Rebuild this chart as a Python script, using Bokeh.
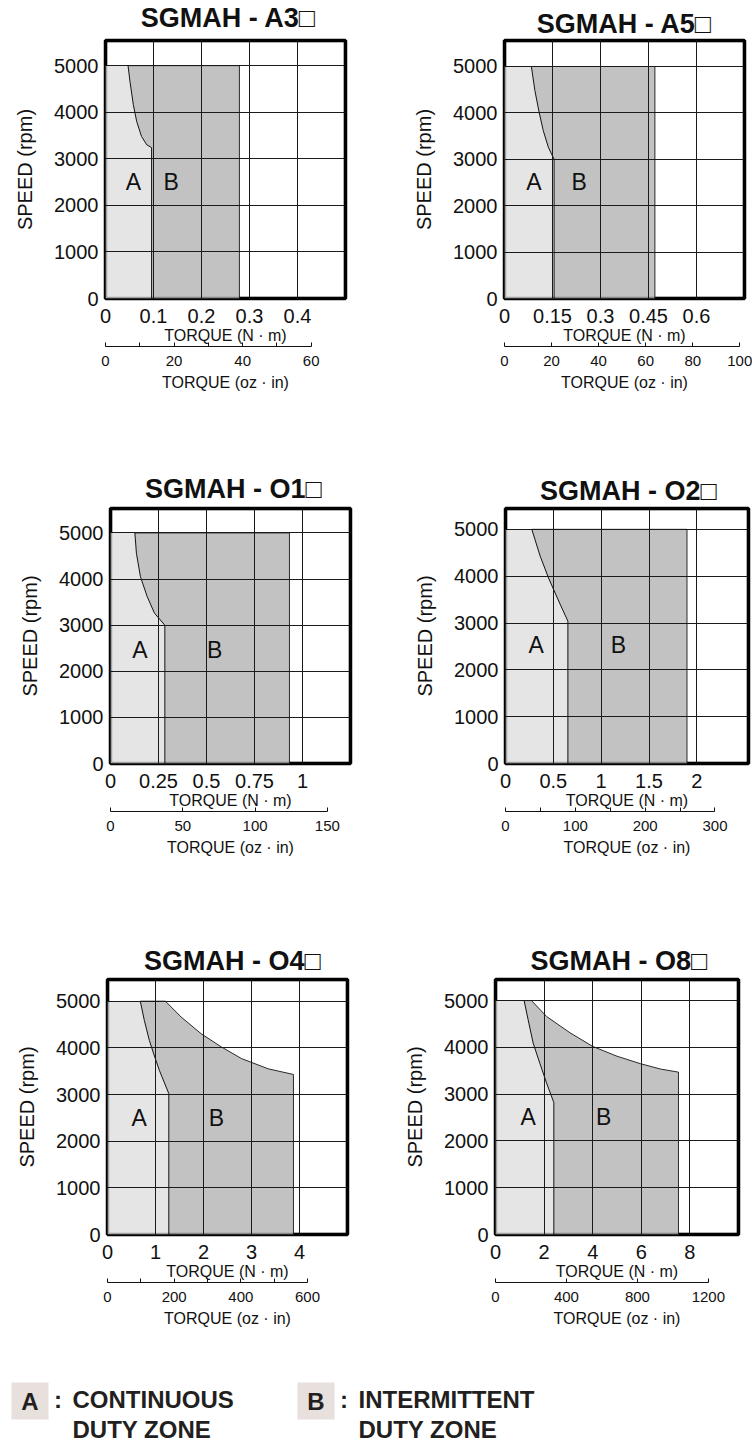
from bokeh.plotting import figure
from bokeh.models import Range1d, LinearAxis, FixedTicker, Label, BoxAnnotation
from bokeh.layouts import column, row
from bokeh.embed import file_html
from bokeh.resources import INLINE

FONT = "Liberation Sans"
INK = "#111111"
LIGHT = "#e5e5e5"
DARK = "#c2c2c2"

# ---------------- data ----------------
titles = ["SGMAH - A3\u25a1", "SGMAH - A5\u25a1", "SGMAH - O1\u25a1",
          "SGMAH - O2\u25a1", "SGMAH - O4\u25a1", "SGMAH - O8\u25a1"]

speed_ticks = [0, 1000, 2000, 3000, 4000, 5000]
speed_labels = ["0", "1000", "2000", "3000", "4000", "5000"]

# A3
a3_nm_ticks = [0, 0.1, 0.2, 0.3, 0.4]
a3_nm_labels = ["0", "0.1", "0.2", "0.3", "0.4"]
a3_oz_ticks = [0, 20, 40, 60]
a3_oz_minor = [10, 30, 50]
a3_cont_torque = [0.047, 0.051, 0.058, 0.065, 0.075, 0.086, 0.096, 0.096]
a3_cont_speed = [5000, 4660, 4160, 3800, 3480, 3300, 3240, 0]
a3_int_torque = [0.047, 0.279, 0.279]
a3_int_speed = [5000, 5000, 0]

# A5
a5_nm_ticks = [0, 0.15, 0.3, 0.45, 0.6]
a5_nm_labels = ["0", "0.15", "0.3", "0.45", "0.6"]
a5_oz_ticks = [0, 20, 40, 60, 80, 100]
a5_oz_minor = []
a5_cont_torque = [0.084, 0.095, 0.108, 0.121, 0.137, 0.155, 0.155]
a5_cont_speed = [5000, 4480, 4020, 3620, 3260, 3000, 0]
a5_int_torque = [0.084, 0.47, 0.47]
a5_int_speed = [5000, 5000, 0]

# O1
o1_nm_ticks = [0, 0.25, 0.5, 0.75, 1]
o1_nm_labels = ["0", "0.25", "0.5", "0.75", "1"]
o1_oz_ticks = [0, 50, 100, 150]
o1_oz_minor = []
o1_cont_torque = [0.127, 0.135, 0.156, 0.191, 0.229, 0.283, 0.283]
o1_cont_speed = [5000, 4560, 4050, 3620, 3260, 3000, 0]
o1_int_torque = [0.127, 0.932, 0.932]
o1_int_speed = [5000, 5000, 0]

# O2
o2_nm_ticks = [0, 0.5, 1, 1.5, 2]
o2_nm_labels = ["0", "0.5", "1", "1.5", "2"]
o2_oz_ticks = [0, 100, 200, 300]
o2_oz_minor = [50, 150, 250]
o2_cont_torque = [0.275, 0.362, 0.45, 0.519, 0.589, 0.652, 0.652]
o2_cont_speed = [5000, 4430, 3960, 3640, 3320, 3040, 0]
o2_int_torque = [0.275, 1.897, 1.897]
o2_int_speed = [5000, 5000, 0]

# O4
o4_nm_ticks = [0, 1, 2, 3, 4]
o4_nm_labels = ["0", "1", "2", "3", "4"]
o4_oz_ticks = [0, 200, 400, 600]
o4_oz_minor = [100, 300, 500]
o4_cont_torque = [0.683, 0.767, 0.872, 0.963, 1.08, 1.277, 1.277]
o4_cont_speed = [5000, 4590, 4160, 3870, 3520, 3020, 0]
o4_int_torque = [0.683, 1.207, 1.535, 1.954, 2.373, 2.792, 3.351, 3.874, 3.874]
o4_int_speed = [5000, 5000, 4660, 4300, 4020, 3770, 3550, 3430, 0]

# O8
o8_nm_ticks = [0, 2, 4, 6, 8]
o8_nm_labels = ["0", "2", "4", "6", "8"]
o8_oz_ticks = [0, 400, 800, 1200]
o8_oz_minor = []
o8_cont_torque = [1.177, 1.343, 1.55, 1.824, 2.10, 2.40, 2.40]
o8_cont_speed = [5000, 4590, 4090, 3660, 3240, 2820, 0]
o8_int_torque = [1.177, 1.48, 2.10, 3.07, 4.0, 5.0, 5.97, 6.8, 7.53, 7.53]
o8_int_speed = [5000, 5000, 4660, 4310, 4020, 3810, 3650, 3535, 3470, 0]

zone_a = "A"
zone_b = "B"
legend_a = ["CONTINUOUS", "DUTY ZONE"]
legend_b = ["INTERMITTENT", "DUTY ZONE"]
x_title_nm = "TORQUE (N \u00b7 m)"
x_title_oz = "TORQUE (oz \u00b7 in)"
y_title = "SPEED (rpm)"

# ---------------- layout / view settings ----------------
PAGE_W = 752
FIG_W = 376


def blank_strip(h):
    t = figure(width=PAGE_W, height=h, x_range=Range1d(0, PAGE_W),
               y_range=Range1d(h, 0), output_backend="svg",
               toolbar_location=None, x_axis_type=None, y_axis_type=None,
               min_border=0)
    t.outline_line_color = None
    t.background_fill_color = "white"
    t.border_fill_color = "white"
    t.grid.visible = False
    return t


def title_strip(h, items):
    t = blank_strip(h)
    for text, cx, cy in items:
        t.add_layout(Label(x=cx, y=cy, text=text, text_align="center",
                           text_baseline="middle", text_font=FONT,
                           text_font_size="27px", text_font_style="bold",
                           text_line_height=1.0, text_color=INK))
    return t


def make_chart(nm_ticks, nm_labels, oz_ticks, oz_minor, ct, cs, it, isp, view):
    fh_total = view["fig_h"]
    L, T, FW, FH = view["L"], view["T"], view["FW"], view["FH"]
    xmax, ymax, ozmax = view["xmax"], view["ymax"], view["ozmax"]
    p = figure(width=FIG_W, height=fh_total,
               x_range=Range1d(0, xmax), y_range=Range1d(0, ymax),
               output_backend="svg", toolbar_location=None,
               min_border_left=L, min_border_right=FIG_W - L - FW,
               min_border_top=T, min_border_bottom=fh_total - T - FH)
    p.background_fill_color = "white"
    p.border_fill_color = "white"
    p.outline_line_color = "black"
    p.outline_line_width = 3.5

    # zones
    top = cs[0]
    a_x = [0, 0] + list(ct)
    a_y = [0, top] + list(cs)
    b_x = list(ct)[::-1] + list(it)[1:]
    b_y = list(cs)[::-1] + list(isp)[1:]
    p.patch(b_x, b_y, fill_color=DARK, line_color=None)
    p.patch(a_x, a_y, fill_color=LIGHT, line_color=None)
    p.line(it, isp, line_color="#2a2a2a", line_width=1)
    p.line(ct, cs, line_color=INK, line_width=1)

    # grid over the zones
    p.xgrid.ticker = FixedTicker(ticks=nm_ticks)
    p.ygrid.ticker = FixedTicker(ticks=speed_ticks)
    for g in (p.xgrid[0], p.ygrid[0]):
        g.grid_line_color = "#1a1a1a"
        g.grid_line_width = 1
        g.grid_line_alpha = 1
        g.level = "guide"

    # heavy frame drawn over the zones
    p.add_layout(BoxAnnotation(fill_alpha=0, fill_color=None, line_color="black",
                               line_width=3.5, level="overlay"))

    # y axis
    ya = p.yaxis[0]
    ya.ticker = FixedTicker(ticks=speed_ticks)
    ya.major_label_overrides = {t: s for t, s in zip(speed_ticks, speed_labels)}
    ya.axis_line_color = None
    ya.major_tick_in = 0
    ya.major_tick_out = 0
    ya.minor_tick_in = 0
    ya.minor_tick_out = 0
    ya.major_label_standoff = 7
    ya.major_label_text_font = FONT
    ya.major_label_text_font_size = "20px"
    ya.major_label_text_color = INK
    ya.axis_label = y_title
    ya.axis_label_text_font = FONT
    ya.axis_label_text_font_size = "20px"
    ya.axis_label_text_font_style = "normal"
    ya.axis_label_text_color = INK
    ya.axis_label_standoff = 15

    # N·m axis
    xa = p.xaxis[0]
    xa.ticker = FixedTicker(ticks=nm_ticks)
    xa.major_label_overrides = {t: s for t, s in zip(nm_ticks, nm_labels)}
    xa.axis_line_color = None
    xa.major_tick_in = 0
    xa.major_tick_out = 0
    xa.minor_tick_in = 0
    xa.minor_tick_out = 0
    xa.major_label_standoff = 10
    xa.major_label_text_font = FONT
    xa.major_label_text_font_size = "20px"
    xa.major_label_text_color = INK
    xa.axis_label = x_title_nm
    xa.axis_label_text_font = FONT
    xa.axis_label_text_font_size = "16px"
    xa.axis_label_text_font_style = "normal"
    xa.axis_label_text_color = INK
    xa.axis_label_standoff = 1

    # oz·in axis
    p.extra_x_ranges = {"oz": Range1d(0, ozmax)}
    oz = LinearAxis(x_range_name="oz",
                    ticker=FixedTicker(ticks=oz_ticks, minor_ticks=oz_minor),
                    bounds=(oz_ticks[0], oz_ticks[-1]))
    oz.axis_line_color = INK
    oz.axis_line_width = 1
    oz.major_tick_in = 4
    oz.major_tick_out = 0
    oz.minor_tick_in = 4
    oz.minor_tick_out = 0
    oz.major_tick_line_color = INK
    oz.minor_tick_line_color = INK
    oz.major_label_standoff = 9
    oz.major_label_text_font = FONT
    oz.major_label_text_font_size = "15px"
    oz.major_label_text_color = INK
    oz.axis_label = x_title_oz
    oz.axis_label_text_font = FONT
    oz.axis_label_text_font_size = "16px"
    oz.axis_label_text_font_style = "normal"
    oz.axis_label_text_color = INK
    oz.axis_label_standoff = 5
    p.add_layout(oz, "below")

    # zone letters
    for (lx, ly), txt in zip(view["zone_pos"], [zone_a, zone_b]):
        p.add_layout(Label(x=lx, y=ly, text=txt, text_align="center",
                           text_baseline="middle", text_font=FONT,
                           text_font_size="23px", text_color=INK))
    return p


# row 1 (titles strip 37px, charts 421px; frames share top/bottom)
t1 = title_strip(37, [(titles[0], 228, 17.5), (titles[1], 624, 23)])
c_a3 = make_chart(a3_nm_ticks, a3_nm_labels, a3_oz_ticks, a3_oz_minor,
                  a3_cont_torque, a3_cont_speed, a3_int_torque, a3_int_speed,
                  dict(fig_h=421, L=105, T=3, FW=240, FH=258, xmax=0.5, ymax=5540,
                       ozmax=70.0, zone_pos=[(0.058, 2500), (0.137, 2500)]))
c_a5 = make_chart(a5_nm_ticks, a5_nm_labels, a5_oz_ticks, a5_oz_minor,
                  a5_cont_torque, a5_cont_speed, a5_int_torque, a5_int_speed,
                  dict(fig_h=421, L=128, T=3, FW=240, FH=258, xmax=0.75, ymax=5560,
                       ozmax=102.0, zone_pos=[(0.092, 2510), (0.233, 2510)]))

# row 2 (titles strip 47px, charts 423px)
t2 = title_strip(47, [(titles[2], 233, 30.5), (titles[3], 628, 32)])
c_o1 = make_chart(o1_nm_ticks, o1_nm_labels, o1_oz_ticks, o1_oz_minor,
                  o1_cont_torque, o1_cont_speed, o1_int_torque, o1_int_speed,
                  dict(fig_h=423, L=110, T=3, FW=240, FH=255, xmax=1.25, ymax=5530,
                       ozmax=166.0, zone_pos=[(0.153, 2470), (0.543, 2470)]))
c_o2 = make_chart(o2_nm_ticks, o2_nm_labels, o2_oz_ticks, o2_oz_minor,
                  o2_cont_torque, o2_cont_speed, o2_int_torque, o2_int_speed,
                  dict(fig_h=423, L=129, T=3, FW=243, FH=255, xmax=2.54, ymax=5445,
                       ozmax=348.0, zone_pos=[(0.32, 2535), (1.18, 2535)]))

# row 3 (titles strip 48px, charts 374px)
t3 = title_strip(48, [(titles[4], 232, 32), (titles[5], 618.5, 32.3)])
c_o4 = make_chart(o4_nm_ticks, o4_nm_labels, o4_oz_ticks, o4_oz_minor,
                  o4_cont_torque, o4_cont_speed, o4_int_torque, o4_int_speed,
                  dict(fig_h=374, L=107, T=3, FW=240, FH=255, xmax=5.0, ymax=5465,
                       ozmax=720.0, zone_pos=[(0.662, 2505), (2.27, 2505)]))
c_o8 = make_chart(o8_nm_ticks, o8_nm_labels, o8_oz_ticks, o8_oz_minor,
                  o8_cont_torque, o8_cont_speed, o8_int_torque, o8_int_speed,
                  dict(fig_h=374, L=119, T=3, FW=243, FH=255, xmax=10.0, ymax=5450,
                       ozmax=1370.0, zone_pos=[(1.34, 2507), (4.45, 2507)]))

# ---------------- legend strip ----------------
leg = blank_strip(92)
box_col = "#e7e0dd"
entries = [(29.5, zone_a, legend_a), (315.5, zone_b, legend_b)]
for cx, letter, lines in entries:
    leg.rect(x=cx, y=50.5, width=37, height=37, fill_color=box_col, line_color=None)
    leg.add_layout(Label(x=cx, y=51, text=letter, text_align="center",
                         text_baseline="middle", text_font=FONT,
                         text_font_size="24px", text_font_style="bold",
                         text_line_height=1.0, text_color="#231f20"))
    leg.add_layout(Label(x=cx + 28, y=48.5, text=":", text_align="center",
                         text_baseline="middle", text_font=FONT,
                         text_font_size="24px", text_font_style="bold",
                         text_line_height=1.0, text_color="#231f20"))
    for i, ln in enumerate(lines):
        leg.add_layout(Label(x=cx + 42.5, y=48.5 + 30 * i, text=ln,
                             text_align="left", text_baseline="middle",
                             text_font=FONT, text_font_size="24px",
                             text_font_style="bold", text_line_height=1.0,
                             text_color="#231f20"))

layout = column(t1, row(c_a3, c_a5, spacing=0),
                t2, row(c_o1, c_o2, spacing=0),
                t3, row(c_o4, c_o8, spacing=0),
                leg, spacing=0)

open("out.html", "w").write(file_html(layout, INLINE))
